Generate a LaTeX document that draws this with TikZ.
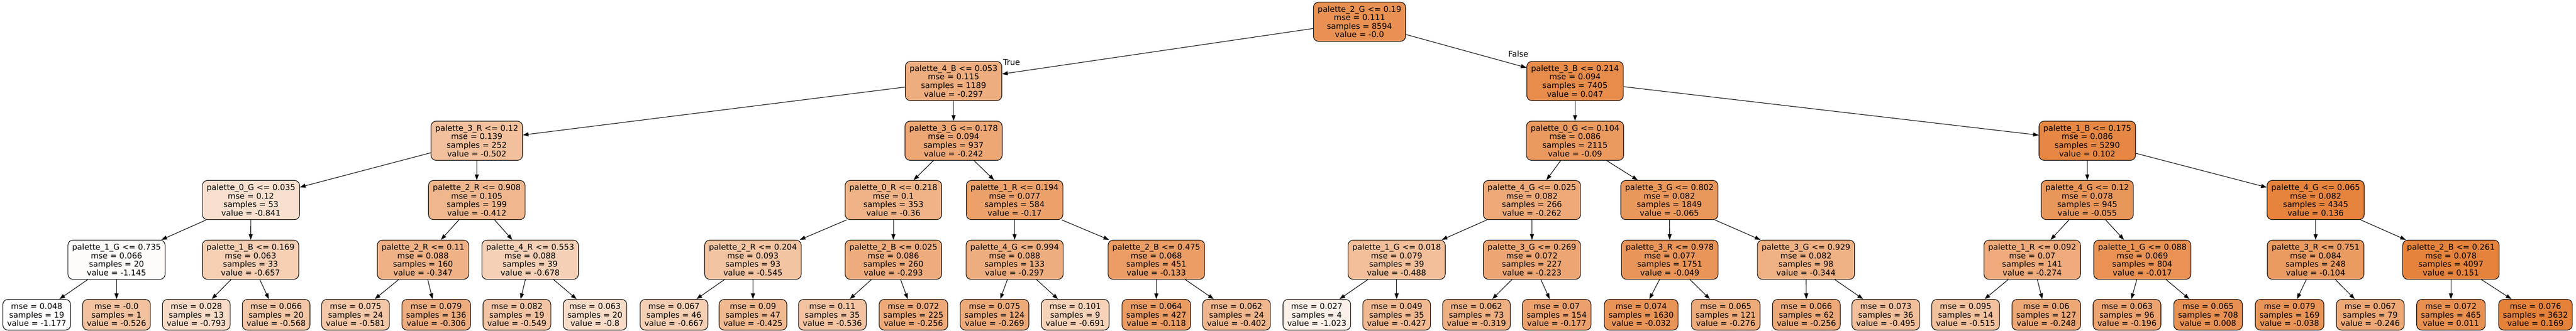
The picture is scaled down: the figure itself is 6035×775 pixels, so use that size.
\documentclass[tikz,border=0pt]{standalone}
\usepackage{fontspec}
\setmainfont{DejaVu Sans}
\usetikzlibrary{arrows.meta}

\begin{document}
\begin{tikzpicture}[x=0.75pt, y=-0.75pt,
    splitbox/.style={draw, rounded corners=9pt, line width=1pt, align=center,
        font=\fontsize{14}{15}\selectfont, inner xsep=7.5pt, inner ysep=0pt,
        minimum height=69pt},
    leafbox/.style={splitbox, minimum height=54pt},
    valfill/.code={\pgfmathsetmacro\alphapct{(#1+1.177)/1.346*100}%
        \pgfkeysalso{fill=treeorange!\alphapct!white}},
    link/.style={line width=1pt, -{Triangle[length=10pt,width=7pt]}},
    branch/.style={font=\fontsize{14}{15}\selectfont, inner sep=0pt}]
    % Define node colour
    \definecolor{treeorange}{RGB}{229,129,57}
    \useasboundingbox (0,0) rectangle (6035,775);

    % Root
    \node[splitbox, valfill=-0.0] (n) at (3185,51)
        {palette\_2\_G <= 0.19\\mse = 0.111\\samples = 8594\\value = -0.0};

    % Depth 1
    \foreach \nm/\xx/\feat/\thr/\mse/\smp/\val in {
        nt/2234/4\_B/0.053/0.115/1189/-0.297,
        nf/3690/3\_B/0.214/0.094/7405/0.047} {
        \node[splitbox, valfill=\val] (\nm) at (\xx,190)
            {palette\_\feat{} <= \thr\\mse = \mse\\samples = \smp\\value = \val};
    }

    % Depth 2
    \foreach \nm/\xx/\feat/\thr/\mse/\smp/\val in {
        ntt/1117/3\_R/0.12/0.139/252/-0.502,
        ntf/2234/3\_G/0.178/0.094/937/-0.242,
        nft/3690/0\_G/0.104/0.086/2115/-0.09,
        nff/4890/1\_B/0.175/0.086/5290/0.102} {
        \node[splitbox, valfill=\val] (\nm) at (\xx,330)
            {palette\_\feat{} <= \thr\\mse = \mse\\samples = \smp\\value = \val};
    }

    % Depth 3
    \foreach \nm/\xx/\feat/\thr/\mse/\smp/\val in {
        nttt/588/0\_G/0.035/0.12/53/-0.841,
        nttf/1117/2\_R/0.908/0.105/199/-0.412,
        ntft/2093/0\_R/0.218/0.1/353/-0.36,
        ntff/2377/1\_R/0.194/0.077/584/-0.17,
        nftt/3589/4\_G/0.025/0.082/266/-0.262,
        nftf/3911/3\_G/0.802/0.082/1849/-0.065,
        nfft/4890/4\_G/0.12/0.078/945/-0.055,
        nfff/5425/4\_G/0.065/0.082/4345/0.136} {
        \node[splitbox, valfill=\val] (\nm) at (\xx,469)
            {palette\_\feat{} <= \thr\\mse = \mse\\samples = \smp\\value = \val};
    }

    % Depth 4
    \foreach \nm/\xx/\feat/\thr/\mse/\smp/\val in {
        ntttt/273/1\_G/0.735/0.066/20/-1.145,
        ntttf/587/1\_B/0.169/0.063/33/-0.657,
        nttft/991/2\_R/0.11/0.088/160/-0.347,
        nttff/1242/4\_R/0.553/0.088/39/-0.678,
        ntftt/1764/2\_R/0.204/0.093/93/-0.545,
        ntftf/2093/2\_B/0.025/0.086/260/-0.293,
        ntfft/2377/4\_G/0.994/0.088/133/-0.297,
        ntfff/2709/2\_B/0.475/0.068/451/-0.133,
        nfttt/3272/1\_G/0.018/0.079/39/-0.488,
        nfttf/3589/3\_G/0.269/0.072/227/-0.223,
        nftft/3912/3\_R/0.978/0.077/1751/-0.049,
        nftff/4231/3\_G/0.929/0.082/98/-0.344,
        nfftt/4761/1\_R/0.092/0.07/141/-0.274,
        nfftf/5019/1\_G/0.088/0.069/804/-0.017,
        nffft/5425/3\_R/0.751/0.084/248/-0.104,
        nffff/5742/2\_B/0.261/0.078/4097/0.151} {
        \node[splitbox, valfill=\val] (\nm) at (\xx,609)
            {palette\_\feat{} <= \thr\\mse = \mse\\samples = \smp\\value = \val};
    }

    % Leaves
    \foreach \nm/\xx/\mse/\smp/\val in {
        nttttt/86/0.048/19/-1.177, nttttf/273/-0.0/1/-0.526,
        ntttft/460/0.028/13/-0.793, ntttff/647/0.066/20/-0.568,
        nttftt/833/0.075/24/-0.581, nttftf/1022/0.079/136/-0.306,
        nttfft/1211/0.082/19/-0.549, nttfff/1394/0.063/20/-0.8,
        ntfttt/1579/0.067/46/-0.667, ntfttf/1764/0.09/47/-0.425,
        ntftft/1950/0.11/35/-0.536, ntftff/2140/0.072/225/-0.256,
        ntfftt/2330/0.075/124/-0.269, ntfftf/2519/0.101/9/-0.691,
        ntffft/2709/0.064/427/-0.118, ntffff/2897/0.062/24/-0.402,
        nftttt/3085/0.027/4/-1.023, nftttf/3272/0.049/35/-0.427,
        nfttft/3459/0.062/73/-0.319, nfttff/3647/0.07/154/-0.177,
        nftftt/3845/0.074/1630/-0.032, nftftf/4043/0.065/121/-0.276,
        nftfft/4232/0.066/62/-0.256, nftfff/4418/0.073/36/-0.495,
        nffttt/4605/0.095/14/-0.515, nffttf/4794/0.06/127/-0.248,
        nfftft/4983/0.063/96/-0.196, nfftff/5173/0.065/708/0.008,
        nffftt/5364/0.079/169/-0.038, nffftf/5553/0.067/79/-0.246,
        nfffft/5742/0.072/465/0.011, nfffff/5940/0.076/3632/0.169} {
        \node[leafbox, valfill=\val] (\nm) at (\xx,738)
            {mse = \mse\\samples = \smp\\value = \val};
    }

    % Edges: every split has a true and a false child
    \foreach \p in {n,nt,nf,ntt,ntf,nft,nff,nttt,nttf,ntft,ntff,nftt,nftf,nfft,nfff,
        ntttt,ntttf,nttft,nttff,ntftt,ntftf,ntfft,ntfff,
        nfttt,nfttf,nftft,nftff,nfftt,nfftf,nffft,nffff} {
        \draw[link] (\p) -- (\p t);
        \draw[link] (\p) -- (\p f);
    }

    % Branch labels
    \node[branch] (truelbl) at (2370,146) {True};
    \node[branch] (falselbl) at (3557,127) {False};
\end{tikzpicture}
\end{document}
